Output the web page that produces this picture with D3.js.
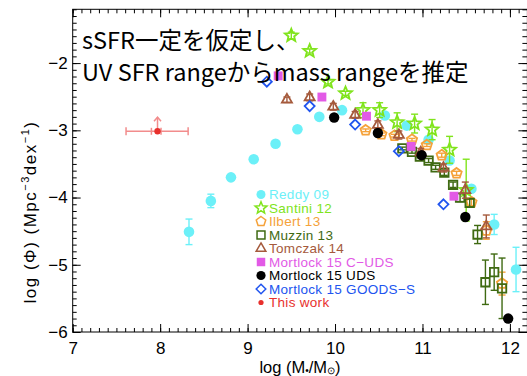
<!DOCTYPE html>
<html><head><meta charset="utf-8">
<script src="https://cdn.jsdelivr.net/npm/d3@7"></script>
<style>
html,body{margin:0;padding:0;background:#fff;}
svg{display:block;}
</style></head>
<body>
<svg id="chart" width="527" height="376"></svg>
<script>
// ---------------- data ----------------
const xTickLabels = [7, 8, 9, 10, 11, 12];
const yTickLabels = [-6, -5, -4, -3, -2];

const reddyX   = [8.33, 8.58, 8.81, 9.07, 9.32, 9.57, 9.82, 10.08, 10.57, 10.82, 11.07, 11.31, 11.56, 11.82, 12.07];
const reddyY   = [-4.51, -4.05, -3.70, -3.43, -3.20, -2.985, -2.80, -2.70, -2.78, -2.93, -3.14, -3.45, -3.87, -4.40, -5.07];
const reddyErr = [0.19, 0.10, 0.04, 0, 0, 0, 0, 0, 0, 0, 0, 0, 0.04, 0.15, 0.33];

const santiniX   = [9.50, 9.71, 9.92, 10.12, 10.32, 10.51, 10.71, 10.91, 11.11, 11.31, 11.50];
const santiniY   = [-1.59, -1.82, -2.28, -2.45, -2.70, -2.70, -2.88, -2.90, -2.99, -3.29, -3.89];
const santiniErr = [0.05, 0.03, 0.03, 0.03, 0.11, 0.11, 0.14, 0.14, 0.15, 0.20, 0.46];

const ilbertX   = [10.35, 10.53, 10.68, 10.88, 11.05, 11.22, 11.39, 11.56, 11.73, 11.91];
const ilbertY   = [-3.00, -3.06, -3.08, -3.14, -3.22, -3.37, -3.64, -4.07, -4.49, -5.28];
const ilbertErr = [0.02, 0.02, 0.02, 0.02, 0.02, 0.03, 0.03, 0.05, 0.13, 0.17];

const muzzinX   = [10.77, 10.88, 10.97, 11.07, 11.15, 11.25, 11.35, 11.43, 11.54, 11.63, 11.72, 11.82, 11.91];
const muzzinY   = [-3.27, -3.32, -3.39, -3.45, -3.55, -3.63, -3.81, -4.00, -4.08, -4.55, -5.26, -5.11, -5.35];
const muzzinErr = [0.02, 0.02, 0.02, 0.03, 0.03, 0.04, 0.04, 0.06, 0.06, 0.135, 0.33, 0.27, 0.45];

const tomczakX   = [9.45, 9.71, 9.98, 10.23, 10.49, 10.73, 10.98, 11.24, 11.49, 11.73];
const tomczakY   = [-2.545, -2.51, -2.65, -2.77, -2.92, -3.07, -3.33, -3.56, -3.89, -4.43];
const tomczakErr = [0.04, 0.05, 0.05, 0.05, 0.06, 0.06, 0.06, 0.06, 0.12, 0.17];

const mortCudsX = [9.35, 9.85, 10.36, 10.87, 11.36];
const mortCudsY = [-2.19, -2.505, -2.79, -3.24, -3.98];
const mortCudsErr = [0, 0, 0, 0, 0];

const mortUdsX = [9.99, 10.49, 10.99, 11.49, 11.98];
const mortUdsY = [-2.81, -3.04, -3.37, -4.29, -5.80];
const mortUdsErr = [0, 0, 0, 0, 0];

const goodsX = [9.22, 9.71, 10.23, 10.73, 11.24];
const goodsY = [-2.277, -2.64, -2.915, -3.31, -4.10];
const goodsErr = [0, 0, 0, 0, 0];

const thisWorkX = [7.97];
const thisWorkY = [-3.015];
const thisWorkXLo = [7.61];
const thisWorkXHi = [8.32];
const thisWorkXLoIn = [7.90];
const thisWorkXHiIn = [8.01];
const thisWorkArrow = [0.21];

const legendNames = ["Reddy 09", "Santini 12", "Ilbert 13", "Muzzin 13", "Tomczak 14",
  "Mortlock 15 C\u2212UDS", "Mortlock 15 UDS", "Mortlock 15 GOODS\u2212S", "This work"];

const noteLines = ["sSFR一定を仮定し、", "UV SFR rangeからmass rangeを推定"];

// ---------------- setup ----------------
const svg = d3.select("#chart");
const x = d3.scaleLinear().domain([7, 12.2]).range([72.7, 527.4]);
const y = d3.scaleLinear().domain([-6, -1.2]).range([332, 9.3]);

const C = {
  reddy: "#6cf0f8", santini: "#80e41c", ilbert: "#f5a23a", muzzin: "#3f6a12",
  tomczak: "#a55a3c", cuds: "#e25ae6", uds: "#000000", goods: "#2155ef", tw: "#e8302c"
};

function poly(n, r, rot) {
  const pts = d3.range(n).map(i => {
    const a = rot + i * 2 * Math.PI / n;
    return [r * Math.sin(a), -r * Math.cos(a)];
  });
  return "M" + pts.map(p => p[0].toFixed(2) + "," + p[1].toFixed(2)).join("L") + "Z";
}
function star(ro, ri) {
  const pts = d3.range(10).map(i => {
    const r = i % 2 ? ri : ro, a = i * Math.PI / 5;
    return [r * Math.sin(a), -r * Math.cos(a)];
  });
  return "M" + pts.map(p => p[0].toFixed(2) + "," + p[1].toFixed(2)).join("L") + "Z";
}
function circ(r) { return d3.symbol(d3.symbolCircle, Math.PI * r * r)(); }

const series = [
  {key: "reddy", xs: reddyX, ys: reddyY, es: reddyErr, path: circ(5.3), lpath: circ(4.5), fill: true},
  {key: "santini", xs: santiniX, ys: santiniY, es: santiniErr, path: star(6.8, 3.0), lpath: star(6.2, 2.7), fill: false},
  {key: "ilbert", xs: ilbertX, ys: ilbertY, es: ilbertErr, path: poly(5, 5.4, 0), lpath: poly(5, 5.0, 0), fill: false},
  {key: "muzzin", xs: muzzinX, ys: muzzinY, es: muzzinErr, path: poly(4, 6.0, Math.PI / 4), lpath: poly(4, 5.6, Math.PI / 4), fill: false},
  {key: "tomczak", xs: tomczakX, ys: tomczakY, es: tomczakErr, path: poly(3, 5.8, 0), lpath: poly(3, 5.6, 0), fill: false},
  {key: "cuds", xs: mortCudsX, ys: mortCudsY, es: mortCudsErr, path: poly(4, 6.3, Math.PI / 4), lpath: poly(4, 6.0, Math.PI / 4), fill: true},
  {key: "uds", xs: mortUdsX, ys: mortUdsY, es: mortUdsErr, path: circ(5.2), lpath: circ(4.6), fill: true},
  {key: "goods", xs: goodsX, ys: goodsY, es: goodsErr, path: poly(4, 5.0, 0), lpath: poly(4, 4.8, 0), fill: false}
];

// ---------------- axes ----------------
const axG = svg.append("g").attr("font-family", "'Liberation Sans', Arial, sans-serif");
const fmt = d3.format("d");
const minorX = d3.range(70, 123).map(v => v / 10);
const minorY = d3.range(-60, -11).map(v => v / 10);

function styleAxis(g, labels) {
  g.select(".domain").remove();
  g.selectAll(".tick line").attr("stroke", "#000").attr("stroke-width", 1);
  g.selectAll(".tick text").attr("font-size", 17).attr("fill", "#000");
  if (!labels) g.selectAll(".tick text").remove();
}
axG.append("g").attr("transform", `translate(0,${y(-6)})`)
  .call(d3.axisBottom(x).tickValues(xTickLabels).tickSize(-8).tickPadding(10).tickFormat(fmt))
  .call(g => styleAxis(g, true));
axG.append("g").attr("transform", `translate(0,${y(-6)})`)
  .call(d3.axisBottom(x).tickValues(minorX).tickSize(-4)).call(g => styleAxis(g, false));
axG.append("g").attr("transform", `translate(0,${y(-1.2)})`)
  .call(d3.axisTop(x).tickValues(xTickLabels).tickSize(-8)).call(g => styleAxis(g, false));
axG.append("g").attr("transform", `translate(0,${y(-1.2)})`)
  .call(d3.axisTop(x).tickValues(minorX).tickSize(-4)).call(g => styleAxis(g, false));
axG.append("g").attr("transform", `translate(${x(7)},0)`)
  .call(d3.axisLeft(y).tickValues(yTickLabels).tickSize(-8).tickPadding(5).tickFormat(fmt))
  .call(g => styleAxis(g, true));
axG.append("g").attr("transform", `translate(${x(7)},0)`)
  .call(d3.axisLeft(y).tickValues(minorY).tickSize(-4)).call(g => styleAxis(g, false));
axG.append("g").attr("transform", `translate(${x(12.2)},0)`)
  .call(d3.axisRight(y).tickValues(yTickLabels).tickSize(-9)).call(g => styleAxis(g, false));
axG.append("g").attr("transform", `translate(${x(12.2)},0)`)
  .call(d3.axisRight(y).tickValues(minorY).tickSize(-5)).call(g => styleAxis(g, false));

svg.append("rect").attr("x", x(7)).attr("y", y(-1.2))
  .attr("width", x(12.2) - x(7)).attr("height", y(-6) - y(-1.2))
  .attr("fill", "none").attr("stroke", "#000").attr("stroke-width", 1);

// axis titles
const xt = axG.append("text").attr("x", 300).attr("y", 372.5).attr("text-anchor", "middle")
  .attr("font-size", 16.5).attr("fill", "#000");
xt.append("tspan").text("log (M");
xt.append("tspan").attr("font-size", 10).attr("dy", 1.5).text("\u2022");
xt.append("tspan").attr("dy", -1.5).text("/M");
xt.append("tspan").attr("font-size", 10).attr("dy", 1.5).text("\u2299");
xt.append("tspan").attr("dy", -1.5).text(")");

const yt = axG.append("text").attr("transform", "translate(36,212) rotate(-90)")
  .attr("text-anchor", "middle").attr("font-size", 17).attr("fill", "#000")
  .attr("letter-spacing", 1.5);
yt.append("tspan").text("log (\u03A6)  (Mpc");
yt.append("tspan").attr("font-size", 11).attr("dy", -7).text("\u22123");
yt.append("tspan").attr("dy", 7).text("dex");
yt.append("tspan").attr("font-size", 11).attr("dy", -7).text("\u22121");
yt.append("tspan").attr("dy", 7).text(")");

// ---------------- data marks ----------------
const plot = svg.append("g");
series.forEach(s => {
  const col = C[s.key];
  const g = plot.append("g");
  const pts = s.xs.map((v, i) => ({x: v, y: s.ys[i], e: s.es[i]}));
  const eb = pts.filter(d => d.e > 0);
  g.selectAll("line.v").data(eb).join("line")
    .attr("x1", d => x(d.x)).attr("x2", d => x(d.x))
    .attr("y1", d => y(d.y - d.e)).attr("y2", d => y(d.y + d.e))
    .attr("stroke", col).attr("stroke-width", 1.4);
  [1, -1].forEach(sg => {
    g.selectAll("line.c" + (sg > 0 ? "a" : "b")).data(eb).join("line")
      .attr("x1", d => x(d.x) - 3.5).attr("x2", d => x(d.x) + 3.5)
      .attr("y1", d => y(d.y + sg * d.e)).attr("y2", d => y(d.y + sg * d.e))
      .attr("stroke", col).attr("stroke-width", 1.4);
  });
  g.selectAll("path").data(pts).join("path")
    .attr("d", s.path)
    .attr("transform", d => `translate(${x(d.x)},${y(d.y)})`)
    .attr("fill", s.fill ? col : "none")
    .attr("stroke", s.fill ? "none" : col)
    .attr("stroke-width", 1.8);
});

// This work
const tw = plot.append("g");
const twPts = thisWorkX.map((v, i) => ({x: v, y: thisWorkY[i], lo: thisWorkXLo[i], hi: thisWorkXHi[i],
  loi: thisWorkXLoIn[i], hii: thisWorkXHiIn[i], a: thisWorkArrow[i]}));
const twErr = "#f28c8c";
tw.selectAll("line.h").data(twPts).join("line")
  .attr("x1", d => x(d.lo)).attr("x2", d => x(d.hi))
  .attr("y1", d => y(d.y)).attr("y2", d => y(d.y))
  .attr("stroke", twErr).attr("stroke-width", 1.5);
["lo", "hi"].forEach(k => {
  tw.selectAll("line.o" + k).data(twPts).join("line")
    .attr("x1", d => x(d[k])).attr("x2", d => x(d[k]))
    .attr("y1", d => y(d.y) - 4).attr("y2", d => y(d.y) + 4)
    .attr("stroke", twErr).attr("stroke-width", 1.5);
});
["loi", "hii"].forEach(k => {
  tw.selectAll("line.i" + k).data(twPts).join("line")
    .attr("x1", d => x(d[k])).attr("x2", d => x(d[k]))
    .attr("y1", d => y(d.y) - 3.5).attr("y2", d => y(d.y) + 3.5)
    .attr("stroke", twErr).attr("stroke-width", 1.5);
});
tw.selectAll("line.arr").data(twPts).join("line")
  .attr("x1", d => x(d.x)).attr("x2", d => x(d.x))
  .attr("y1", d => y(d.y)).attr("y2", d => y(d.y + d.a))
  .attr("stroke", twErr).attr("stroke-width", 1.5);
tw.selectAll("path.head").data(twPts).join("path")
  .attr("d", d => `M${x(d.x) - 3.5},${y(d.y + d.a) + 4}L${x(d.x)},${y(d.y + d.a)}L${x(d.x) + 3.5},${y(d.y + d.a) + 4}`)
  .attr("fill", "none").attr("stroke", twErr).attr("stroke-width", 1.5);
tw.selectAll("circle").data(twPts).join("circle")
  .attr("cx", d => x(d.x)).attr("cy", d => y(d.y)).attr("r", 3.2).attr("fill", C.tw);

// ---------------- legend ----------------
const legKeys = ["reddy", "santini", "ilbert", "muzzin", "tomczak", "cuds", "uds", "goods", "tw"];
const leg = svg.append("g").attr("font-family", "'Liberation Sans', Arial, sans-serif");
legKeys.forEach((k, i) => {
  const cy = 194.5 + i * 13.5;
  const col = C[k];
  if (k === "tw") {
    leg.append("circle").attr("cx", 261).attr("cy", cy).attr("r", 2.6).attr("fill", col);
  } else {
    const s = series.find(d => d.key === k);
    leg.append("path").attr("d", s.lpath).attr("transform", `translate(261,${cy})`)
      .attr("fill", s.fill ? col : "none").attr("stroke", s.fill ? "none" : col).attr("stroke-width", 1.5);
  }
  leg.append("text").attr("x", 269).attr("y", cy + 4.8).attr("font-size", 13.5)
    .attr("letter-spacing", 0.3).attr("fill", col).text(legendNames[i]);
});

// ---------------- annotation ----------------
const note = svg.append("g").attr("font-family", "'Noto Sans CJK JP', 'Noto Sans', sans-serif")
  .attr("font-size", 23.5).attr("fill", "#000");
noteLines.forEach((t, i) => {
  note.append("text").attr("x", 82).attr("y", 49 + i * 31.5).text(t);
});
</script>
</body></html>
